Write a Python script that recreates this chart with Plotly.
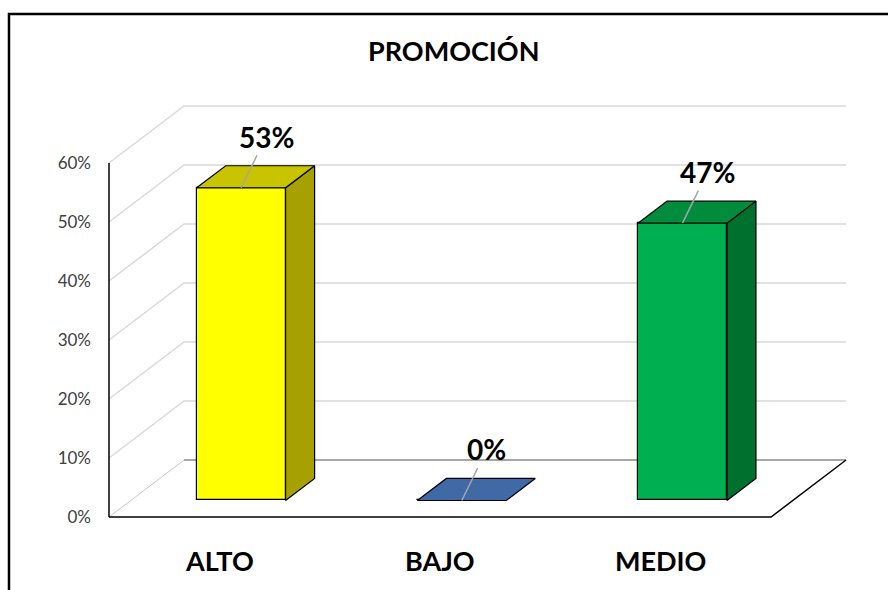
import plotly.graph_objects as go

# Survey results for "PROMOCIÓN"
categories = ["ALTO", "BAJO", "MEDIO"]
values = [53, 0, 47]
tick_values = [0, 10, 20, 30, 40, 50, 60]

front_colors = ["#FFFF00", "#3F6AA5", "#00B050"]
top_colors = ["#C8C400", "#3F6AA5", "#008C3C"]
side_colors = ["#A6A100", "#2F5080", "#00702F"]

# Oblique 3D projection parameters (in data units)
DX, DY = 0.340, 9.66      # full floor depth offset
F0, F1 = 0.29, 0.677      # bar front / back depth fractions
BAR_W = 0.403             # bar width in category units
N = len(categories)

fig = go.Figure()

# Front faces
xs, bases = [], []
for i in range(N):
    xs.append(i + 0.5 + F0 * DX)
    bases.append(F0 * DY)
fig.add_trace(go.Bar(
    x=xs, y=values, base=bases, width=BAR_W,
    marker=dict(color=front_colors, line=dict(color="#000000", width=1.2)),
    hoverinfo="skip", showlegend=False,
))

# Top and side faces
ddx, ddy = (F1 - F0) * DX, (F1 - F0) * DY
for i, v in enumerate(values):
    xl = xs[i] - BAR_W / 2
    xr = xs[i] + BAR_W / 2
    b = bases[i]
    t = b + v
    if v > 0:
        fig.add_trace(go.Scatter(
            x=[xr, xr + ddx, xr + ddx, xr, xr],
            y=[b, b + ddy, t + ddy, t, b],
            fill="toself", fillcolor=side_colors[i], mode="lines",
            line=dict(color="#000000", width=1.2),
            hoverinfo="skip", showlegend=False,
        ))
    fig.add_trace(go.Scatter(
        x=[xl, xl + ddx, xr + ddx, xr, xl],
        y=[t, t + ddy, t + ddy, t, t],
        fill="toself", fillcolor=top_colors[i], mode="lines",
        line=dict(color="#000000", width=1.2),
        hoverinfo="skip", showlegend=False,
    ))

shapes = []
# Wall gridlines
for v in tick_values[1:]:
    shapes.append(dict(
        type="path", xref="x", yref="y", layer="below",
        path=f"M 0,{v} L {DX},{v + DY} L {N + DX},{v + DY}",
        line=dict(color="#D9D9D9", width=1.5),
    ))
# Floor
shapes.append(dict(type="path", xref="x", yref="y", layer="below",
                   path=f"M 0,0 L {DX},{DY}",
                   line=dict(color="#C8C8C8", width=1)))
shapes.append(dict(type="path", xref="x", yref="y", layer="below",
                   path=f"M {DX},{DY} L {N + DX},{DY}",
                   line=dict(color="#A6A6A6", width=2)))
shapes.append(dict(type="path", xref="x", yref="y", layer="below",
                   path=f"M 0,0 L {N},0 L {N + DX},{DY}",
                   line=dict(color="#000000", width=1.5)))
# Vertical value axis
shapes.append(dict(type="path", xref="x", yref="y", layer="below",
                   path=f"M 0,0 L 0,{tick_values[-1]}",
                   line=dict(color="#000000", width=1.5)))
# Chart frame
shapes.append(dict(type="rect", xref="paper", yref="paper",
                   x0=-0.1155, x1=1.03, y0=-0.03, y1=0.9763,
                   line=dict(color="#000000", width=2.5)))

annotations = []
# Data labels with leader lines
for i, v in enumerate(values):
    annotations.append(dict(
        x=xs[i], y=bases[i] + v, xref="x", yref="y",
        text=f"<b>{v}%</b>", showarrow=True, arrowhead=0,
        arrowcolor="#A6A6A6", arrowwidth=1.5, standoff=0,
        ax=25, ay=-51,
        font=dict(family="Lato", size=28, color="#000000"),
    ))
# Category labels
for i, c in enumerate(categories):
    annotations.append(dict(
        x=i + 0.5, y=-7.3, xref="x", yref="y",
        text=f"<b>{c}</b>", showarrow=False,
        font=dict(family="Lato", size=27, color="#000000"),
    ))

fig.update_layout(
    width=888, height=590,
    margin=dict(l=100, r=0, t=0, b=0),
    paper_bgcolor="#FFFFFF", plot_bgcolor="#FFFFFF",
    title=dict(text="<b>PROMOCIÓN</b>", x=0.511, y=0.912,
               xanchor="center", yanchor="middle",
               font=dict(family="Lato", size=27, color="#000000")),
    xaxis=dict(range=[-0.0408, 3.530], visible=False, fixedrange=True),
    yaxis=dict(range=[-12.37, 87.63], tickvals=tick_values,
               ticktext=[f"{v}%" for v in tick_values],
               showgrid=False, zeroline=False, showline=False, ticks="",
               ticklabelstandoff=8,
               tickfont=dict(family="Lato", size=17, color="#404040"),
               fixedrange=True),
    shapes=shapes, annotations=annotations,
    bargap=0,
)

fig.write_html("out.html")
